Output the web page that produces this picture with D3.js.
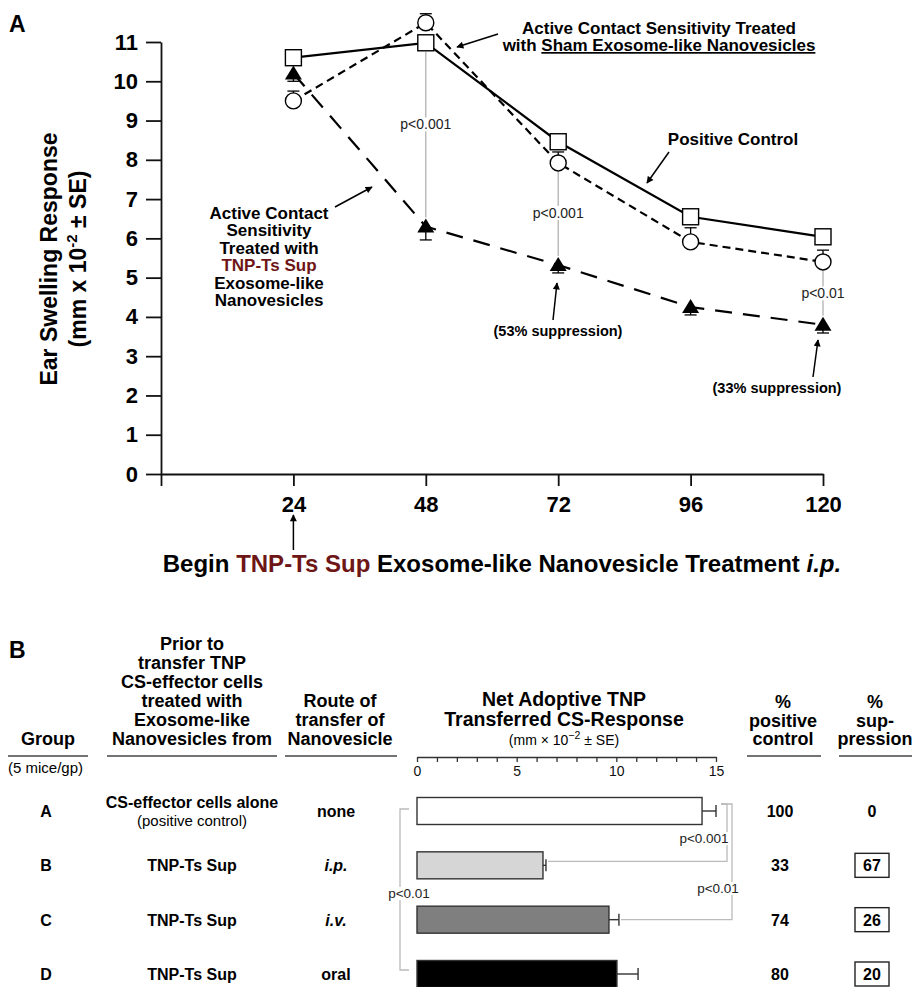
<!DOCTYPE html>
<html>
<head>
<meta charset="utf-8">
<script src="https://cdn.jsdelivr.net/npm/d3@7"></script>
<style>
  body { margin: 0; background: #fff; }
  text { font-family: 'Liberation Sans', Arial, Helvetica, sans-serif; }
</style>
</head>
<body>
<script>
// ---- panel A data (hours after sensitization) ----
const hours = [24, 48, 72, 96, 120];
const positiveControl = [10.6, 10.98, 8.46, 6.55, 6.04];
const shamNano = [9.5, 11.49, 7.92, 5.91, 5.4];
const shamSE = [0.25, 0.23, 0.28, 0.36, 0.3];
const tnpNano = [10.2, 6.3, 5.32, 4.25, 3.8];
const tnpSE = [0.2, 0.34, 0.2, 0.2, 0.21];
const xTicksA = [0, 24, 48, 72, 96, 120];
const yTicksA = [0, 1, 2, 3, 4, 5, 6, 7, 8, 9, 10, 11];

// ---- panel B data ----
const groups = ["A", "B", "C", "D"];
const cellSource = ["CS-effector cells alone", "TNP-Ts Sup", "TNP-Ts Sup", "TNP-Ts Sup"];
const cellSourceNote = ["(positive control)", "", "", ""];
const routes = ["none", "i.p.", "i.v.", "oral"];
const netResponse = [14.3, 6.32, 9.63, 10.03];
const netResponseSE = [0.7, 0.15, 0.5, 1.06];
const pctPositive = [100, 33, 74, 80];
const pctSuppression = [0, 67, 26, 20];
const xTicksB = [0, 5, 10, 15];

const RED = "#6e1616";
const W = 914, H = 987;

const svg = d3.select("body").append("svg")
    .attr("width", W)
    .attr("height", H);

svg.append("defs").append("marker")
    .attr("id", "arrow")
    .attr("viewBox", "0 0 10 10")
    .attr("refX", 9).attr("refY", 5)
    .attr("markerWidth", 8).attr("markerHeight", 7)
    .attr("markerUnits", "userSpaceOnUse")
    .attr("orient", "auto")
    .append("path")
    .attr("d", "M0,0 L10,5 L0,10 Z")
    .attr("fill", "#000");

function arrow(x1, y1, x2, y2) {
    svg.append("line")
        .attr("x1", x1).attr("y1", y1).attr("x2", x2).attr("y2", y2)
        .attr("stroke", "#000").attr("stroke-width", 1.5)
        .attr("marker-end", "url(#arrow)");
}

function lines(g, list, x, y0, lh, size, weight) {
    list.forEach((t, i) => {
        g.append("text")
            .attr("x", x).attr("y", y0 + i * lh)
            .attr("text-anchor", "middle")
            .attr("font-size", size)
            .attr("font-weight", weight)
            .text(t);
    });
}

// small label on a white patch so connector lines break behind it
function pLabel(x, y, t, size) {
    const bg = svg.append("rect").attr("fill", "#fff");
    const txt = svg.append("text").attr("x", x).attr("y", y).attr("text-anchor", "middle")
        .attr("font-size", size).attr("fill", "#222").text(t);
    const bb = txt.node().getBBox();
    bg.attr("x", bb.x - 1).attr("y", bb.y + 1).attr("width", bb.width + 2).attr("height", bb.height - 2);
}

// =================== PANEL A ===================
const xA = d3.scaleLinear().domain([0, 120]).range([161, 823]);
const yA = d3.scaleLinear().domain([0, 11]).range([474, 42]);

svg.append("text").attr("x", 9).attr("y", 32)
    .attr("font-size", 23).attr("font-weight", "bold").text("A");

const yAxisA = svg.append("g")
    .attr("transform", "translate(" + xA(0) + ",0)")
    .call(d3.axisLeft(yA).tickValues(yTicksA).tickSize(15).tickSizeOuter(0).tickPadding(8));
const xAxisA = svg.append("g")
    .attr("transform", "translate(0," + yA(0) + ")")
    .call(d3.axisBottom(xA).tickValues(xTicksA).tickSize(12).tickSizeOuter(0).tickPadding(10)
        .tickFormat(d => d === 0 ? "" : d));
[yAxisA, xAxisA].forEach(ax => {
    ax.selectAll("path, line").attr("stroke", "#111").attr("stroke-width", 1.8);
    ax.selectAll("text").attr("font-size", 22).attr("font-weight", "bold").attr("fill", "#000")
        .attr("font-family", "'Liberation Sans', Arial, sans-serif");
});

// y title
const yTitle = svg.append("g").attr("transform", "translate(57,259) rotate(-90)");
yTitle.append("text").attr("text-anchor", "middle").attr("y", 0)
    .attr("font-size", 23).attr("font-weight", "bold").text("Ear Swelling Response");
const yt2 = yTitle.append("text").attr("text-anchor", "middle").attr("y", 29)
    .attr("font-size", 23).attr("font-weight", "bold");
yt2.append("tspan").text("(mm x 10");
yt2.append("tspan").attr("font-size", 15).attr("dy", -9).text("-2");
yt2.append("tspan").attr("dy", 9).text(" \u00b1 SE)");

// p-value connectors
const pConnect = [
    { i: 1, top: positiveControl, bottom: tnpNano, label: "p<0.001", at: 8.9 },
    { i: 2, top: shamNano, bottom: tnpNano, label: "p<0.001", at: 6.65 },
    { i: 4, top: shamNano, bottom: tnpNano, label: "p<0.01", at: 4.6 }
];
pConnect.forEach(p => {
    const x = xA(hours[p.i]);
    svg.append("line")
        .attr("x1", x).attr("x2", x)
        .attr("y1", yA(p.top[p.i]) + 9).attr("y2", yA(p.bottom[p.i]) - 9)
        .attr("stroke", "#aaa").attr("stroke-width", 1.2);
    pLabel(x, yA(p.at) + 5, p.label, 14);
});

// error bars
function errBars(vals, se, dir) {
    vals.forEach((v, i) => {
        const x = xA(hours[i]);
        const ye = yA(v + dir * se[i]);
        svg.append("line").attr("x1", x).attr("x2", x).attr("y1", yA(v)).attr("y2", ye)
            .attr("stroke", "#000").attr("stroke-width", 1.3);
        svg.append("line").attr("x1", x - 6).attr("x2", x + 6).attr("y1", ye).attr("y2", ye)
            .attr("stroke", "#000").attr("stroke-width", 1.3);
    });
}
errBars(shamNano, shamSE, 1);
errBars(tnpNano, tnpSE, -1);

const lineGen = d3.line().x((d, i) => xA(hours[i])).y(d => yA(d));
svg.append("path").datum(tnpNano).attr("d", lineGen)
    .attr("fill", "none").attr("stroke", "#000").attr("stroke-width", 2.2)
    .attr("stroke-dasharray", "17,11");
svg.append("path").datum(shamNano).attr("d", lineGen)
    .attr("fill", "none").attr("stroke", "#000").attr("stroke-width", 2.2)
    .attr("stroke-dasharray", "8,5");
svg.append("path").datum(positiveControl).attr("d", lineGen)
    .attr("fill", "none").attr("stroke", "#000").attr("stroke-width", 2.2);

svg.selectAll(".tri").data(tnpNano).enter().append("path")
    .attr("class", "tri")
    .attr("transform", (d, i) => "translate(" + xA(hours[i]) + "," + yA(d) + ")")
    .attr("d", "M0,-8 L8.5,6 L-8.5,6 Z")
    .attr("fill", "#000");
svg.selectAll(".circ").data(shamNano).enter().append("circle")
    .attr("class", "circ")
    .attr("cx", (d, i) => xA(hours[i])).attr("cy", d => yA(d)).attr("r", 8)
    .attr("fill", "#fff").attr("stroke", "#000").attr("stroke-width", 1.4);
svg.selectAll(".sq").data(positiveControl).enter().append("rect")
    .attr("class", "sq")
    .attr("x", (d, i) => xA(hours[i]) - 8).attr("y", d => yA(d) - 8)
    .attr("width", 16).attr("height", 16)
    .attr("fill", "#fff").attr("stroke", "#000").attr("stroke-width", 1.4);

// annotations panel A
svg.append("text").attr("x", 659).attr("y", 34).attr("text-anchor", "middle")
    .attr("font-size", 17).attr("font-weight", "bold").text("Active Contact Sensitivity Treated");
const sham2 = svg.append("text").attr("x", 659).attr("y", 51).attr("text-anchor", "middle")
    .attr("font-size", 17).attr("font-weight", "bold");
sham2.append("tspan").text("with ");
sham2.append("tspan").style("text-decoration", "underline").text("Sham Exosome-like Nanovesicles");
arrow(498, 34, 457, 47);

svg.append("text").attr("x", 733).attr("y", 145).attr("text-anchor", "middle")
    .attr("font-size", 17).attr("font-weight", "bold").text("Positive Control");
arrow(669, 152, 647, 183);

const leftNote = svg.append("g");
lines(leftNote, ["Active Contact", "Sensitivity", "Treated with"], 269, 219, 17.4, 17, "bold");
leftNote.append("text").attr("x", 269).attr("y", 219 + 3 * 17.4).attr("text-anchor", "middle")
    .attr("font-size", 17).attr("font-weight", "bold").attr("fill", RED).text("TNP-Ts Sup");
lines(leftNote, ["Exosome-like", "Nanovesicles"], 269, 219 + 4 * 17.4, 17.4, 17, "bold");
arrow(335, 207, 372, 187);

svg.append("text").attr("x", 558).attr("y", 336).attr("text-anchor", "middle")
    .attr("font-size", 14.5).attr("font-weight", "bold").text("(53% suppression)");
arrow(553, 320, 557, 283);
svg.append("text").attr("x", 777).attr("y", 393).attr("text-anchor", "middle")
    .attr("font-size", 14.5).attr("font-weight", "bold").text("(33% suppression)");
arrow(813, 377, 818, 340);

// treatment start arrow + caption
arrow(xA(24), 550, xA(24), 515);
const cap = svg.append("text").attr("x", 502).attr("y", 572).attr("text-anchor", "middle")
    .attr("font-size", 24).attr("font-weight", "bold");
cap.append("tspan").text("Begin ");
cap.append("tspan").attr("fill", RED).text("TNP-Ts Sup");
cap.append("tspan").text(" Exosome-like Nanovesicle Treatment ");
cap.append("tspan").attr("font-style", "italic").text("i.p.");

// =================== PANEL B ===================
svg.append("text").attr("x", 9).attr("y", 658)
    .attr("font-size", 23).attr("font-weight", "bold").text("B");

const hdr = svg.append("g");
lines(hdr, ["Group"], 48, 745, 19, 18, "bold");
lines(hdr, ["Prior to", "transfer TNP", "CS-effector cells", "treated with", "Exosome-like", "Nanovesicles from"],
    192, 650, 19, 18, "bold");
lines(hdr, ["Route of", "transfer of", "Nanovesicle"], 340, 707, 19, 18, "bold");
lines(hdr, ["Net Adoptive TNP", "Transferred CS-Response"], 564, 706, 20, 19.5, "bold");
lines(hdr, ["%", "positive", "control"], 783, 708, 18.5, 18, "bold");
lines(hdr, ["%", "sup-", "pression"], 875, 708, 18.5, 18, "bold");

const unit = svg.append("text").attr("x", 564).attr("y", 745).attr("text-anchor", "middle")
    .attr("font-size", 14);
unit.append("tspan").text("(mm \u00d7 10");
unit.append("tspan").attr("font-size", 10.5).attr("dy", -6).text("\u22122");
unit.append("tspan").attr("dy", 6).text(" \u00b1 SE)");

svg.append("text").attr("x", 8).attr("y", 773).attr("font-size", 15).text("(5 mice/gp)");

[[8, 88], [107, 277], [285, 397], [747, 821], [839, 912]].forEach(s => {
    svg.append("line").attr("x1", s[0]).attr("x2", s[1]).attr("y1", 756).attr("y2", 756)
        .attr("stroke", "#444").attr("stroke-width", 1.5);
});

const xB = d3.scaleLinear().domain([0, 15]).range([417, 716]);
const yB = d3.scalePoint().domain(groups).range([811, 974]);
const barH = 27;

const xAxisB = svg.append("g")
    .attr("transform", "translate(0,757)")
    .call(d3.axisBottom(xB).ticks(15).tickSize(5).tickSizeOuter(0).tickPadding(4)
        .tickFormat(d => xTicksB.includes(d) ? d : ""));
xAxisB.selectAll("path, line").attr("stroke", "#333").attr("stroke-width", 1.3);
xAxisB.selectAll("text").attr("font-size", 14).attr("fill", "#111")
    .attr("font-family", "'Liberation Sans', Arial, sans-serif");

// p-value brackets (panel B)
const bracket = svg.append("g").attr("fill", "none").attr("stroke", "#bbb").attr("stroke-width", 1.3);
bracket.append("path").attr("d",
    "M" + (xB(netResponse[0] + netResponseSE[0]) + 5) + "," + (yB("A") - 7) +
    "H727V" + (yB("B") - 4) + "H" + (xB(netResponse[1] + netResponseSE[1]) + 2));
bracket.append("path").attr("d",
    "M" + (xB(netResponse[0] + netResponseSE[0]) + 5) + "," + (yB("A") - 7) +
    "H732V" + (yB("C")) + "H" + (xB(netResponse[2] + netResponseSE[2]) + 2));
bracket.append("path").attr("d",
    "M" + (xB(0) - 8) + "," + (yB("A") - 2) + "H400V" + (yB("D") - 4) + "H" + (xB(0) - 8));

pLabel(704, 843, "p<0.001", 13.5);
pLabel(718, 893, "p<0.01", 13.5);
pLabel(409, 898, "p<0.01", 13.5);

// bars
const barFill = ["#ffffff", "#d6d6d6", "#7f7f7f", "#000000"];
svg.selectAll(".bar").data(netResponse).enter().append("rect")
    .attr("class", "bar")
    .attr("x", xB(0))
    .attr("y", (d, i) => yB(groups[i]) - barH / 2)
    .attr("width", d => xB(d) - xB(0))
    .attr("height", barH)
    .attr("fill", (d, i) => barFill[i])
    .attr("stroke", "#333").attr("stroke-width", 1.4);
netResponse.forEach((v, i) => {
    const y = yB(groups[i]);
    const xe = xB(v + netResponseSE[i]);
    svg.append("line").attr("x1", xB(v)).attr("x2", xe).attr("y1", y).attr("y2", y)
        .attr("stroke", "#333").attr("stroke-width", 1.4);
    svg.append("line").attr("x1", xe).attr("x2", xe).attr("y1", y - 6).attr("y2", y + 6)
        .attr("stroke", "#333").attr("stroke-width", 1.4);
});

// table rows
groups.forEach((g, i) => {
    const y = yB(g);
    svg.append("text").attr("x", 46).attr("y", y + 6).attr("text-anchor", "middle")
        .attr("font-size", 16).attr("font-weight", "bold").text(g);
    if (cellSourceNote[i]) {
        svg.append("text").attr("x", 192).attr("y", y - 3).attr("text-anchor", "middle")
            .attr("font-size", 16).attr("font-weight", "bold").text(cellSource[i]);
        svg.append("text").attr("x", 192).attr("y", y + 15).attr("text-anchor", "middle")
            .attr("font-size", 15).text(cellSourceNote[i]);
    } else {
        svg.append("text").attr("x", 192).attr("y", y + 6).attr("text-anchor", "middle")
            .attr("font-size", 16).attr("font-weight", "bold").text(cellSource[i]);
    }
    svg.append("text").attr("x", 336).attr("y", y + 6).attr("text-anchor", "middle")
        .attr("font-size", 16).attr("font-weight", "bold")
        .attr("font-style", routes[i].includes(".") ? "italic" : "normal")
        .text(routes[i]);
    svg.append("text").attr("x", 780).attr("y", y + 6).attr("text-anchor", "middle")
        .attr("font-size", 16).attr("font-weight", "bold").text(pctPositive[i]);
    if (pctSuppression[i] > 0) {
        svg.append("rect").attr("x", 855).attr("y", y - 12).attr("width", 34).attr("height", 24)
            .attr("fill", "#fff").attr("stroke", "#222").attr("stroke-width", 1.4);
    }
    svg.append("text").attr("x", 872).attr("y", y + 6).attr("text-anchor", "middle")
        .attr("font-size", 16).attr("font-weight", "bold").text(pctSuppression[i]);
});
</script>
</body>
</html>
